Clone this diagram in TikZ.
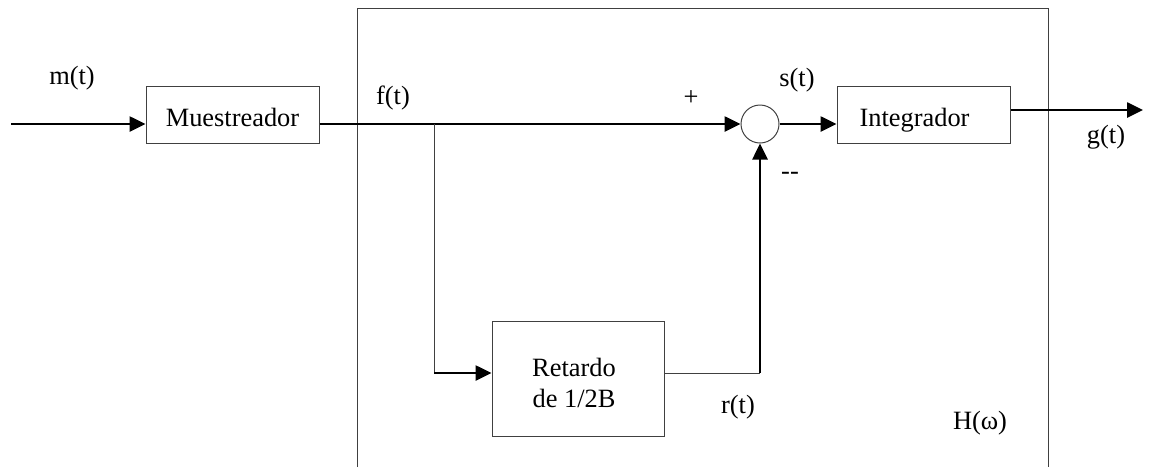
\documentclass[tikz,border=0pt]{standalone}
\usepackage{fontspec}
\setmainfont{Liberation Serif}
\usetikzlibrary{arrows.meta}
\begin{document}
\begin{tikzpicture}[x=0.5pt,y=-0.5pt,
  every node/.style={font=\fontsize{13.2}{15.5}\selectfont, inner sep=0pt},
  blockbox/.style={draw=black!75, line width=0.5pt, minimum width=86.5pt, minimum height=28.5pt, text height=12pt, text depth=0pt},
  thin/.style={draw=black!75, line width=0.5pt},
  thick/.style={draw=black, line width=1.3pt},
  arr/.style={-{Triangle[length=8pt,width=7.5pt]}}]
\useasboundingbox (0,0) rectangle (1151,467);
% outer system box
\draw[thin] (357,467) -- (357,8) -- (1048,8) -- (1048,467);
% blocks
\node[blockbox] (M) at (232.5,114.5) {Muestreador};
\node[blockbox] (I) at (923.5,114.5) {\hspace{-9pt}Integrador};
\node[draw=black!75, line width=0.5pt, minimum width=86pt, minimum height=57.5pt] (R) at (578,378.5) {};
\node[align=center] (Rt) at (574,383) {Retardo\\de 1/2B};
\node[circle, draw=black!75, line width=0.5pt, minimum size=19pt] (S) at (760,124) {};
% coordinates
\coordinate (in) at (11,124);
\coordinate (br) at (434,124);
\coordinate (bd) at (434,373);
\coordinate (rc) at (760,373);
\coordinate (out) at (1143,110);
% connectors
\draw[thick, arr] (in) -- (M.west |- in);
\draw[thick, arr] (M.east |- br) -- (S.west);
\draw[thin] (br) -- (bd);
\draw[thick, arr] (bd) -- (R.west |- bd);
\draw[thin] (R.east |- rc) -- (rc);
\draw[thick, arr] (rc) -- (S.south);
\draw[thick, arr] (S.east) -- (I.west |- S.east);
\draw[thick, arr] (I.east |- out) -- (out);
% labels
\node (lm) at (72,78) {m(t)};
\node (lf) at (393,98) {f(t)};
\node (lp) at (691,98) {+};
\node (ls) at (797,80) {s(t)};
\node (ln) at (790,176) {-{}-};
\node (lg) at (1106,137) {g(t)};
\node (lr) at (738,407) {r(t)};
\node (lh) at (980,423) {H(ω)};
\end{tikzpicture}
\end{document}
